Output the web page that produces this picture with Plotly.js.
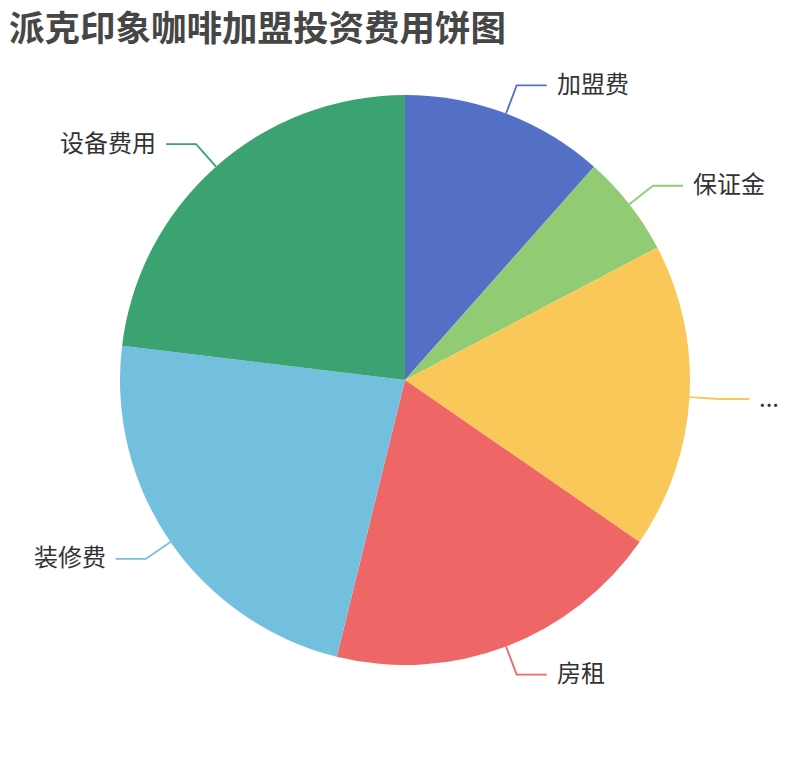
<!DOCTYPE html>
<html>
<head>
<meta charset="utf-8">
<script src="https://cdn.plot.ly/plotly-3.0.1.min.js"></script>
<style>
body { margin: 0; background: #fff; }
#myDiv { width: 810px; height: 760px; }
</style>
</head>
<body>
<div id="myDiv"></div>
<script>
// 费用项目 和 金额（万元）
var labels = ["加盟费", "保证金", "...", "房租", "装修费", "设备费用"];
var values = [6, 3, 9, 10, 12, 12];
var colors = ["#5470c6", "#91cc75", "#fac858", "#ee6666", "#73c0de", "#3ba272"];

var W = 810, H = 760;
var cx = 405, cy = 380, R = 285;
var len1 = 30, len2 = 30, gap = 8;

var total = values.reduce(function (a, b) { return a + b }, 0);

// px -> paper
const px = (x) => x / W;
const py = (y) => 1 - y / H;

// leader lines + labels, placed at each slice's middle angle
var shapes = [];
var annotations = [];
var acc = 0;
for (var i = 0; i < values.length; i++) {
    var mid = (acc + values[i] / 2) / total * 2 * Math.PI;
    acc += values[i];
    var sx = Math.sin(mid), sy = -Math.cos(mid);
    var x1 = cx + R * sx, y1 = cy + R * sy;
    var x2 = cx + (R + len1) * sx, y2 = cy + (R + len1) * sy;
    var dir = sx >= 0 ? 1 : -1;
    var x3 = x2 + dir * len2;
    shapes.push({
        type: 'path',
        xref: 'paper',
        yref: 'paper',
        path: 'M' + px(x1) + ',' + py(y1) + ' L' + px(x2) + ',' + py(y2) + ' L' + px(x3) + ',' + py(y2),
        line: { color: colors[i], width: 1.8 }
    });
    annotations.push({
        xref: 'paper',
        yref: 'paper',
        x: px(x3 + dir * gap),
        y: py(y2),
        xanchor: dir > 0 ? 'left' : 'right',
        yanchor: 'middle',
        yshift: 3,
        text: labels[i],
        showarrow: false,
        font: { size: 24, color: '#333333', family: '"Noto Sans CJK SC", sans-serif' }
    });
}

var data = [{
    type: 'pie',
    labels: labels,
    values: values,
    sort: false,
    direction: 'clockwise',
    rotation: 0,
    textinfo: 'none',
    hoverinfo: 'label+value+percent',
    marker: { colors: colors, line: { width: 0 } },
    domain: { x: [px(cx - R), px(cx + R)], y: [py(cy + R), py(cy - R)] },
    showlegend: false
}];

var layout = {
    width: W,
    height: H,
    margin: { t: 0, b: 0, l: 0, r: 0 },
    paper_bgcolor: '#ffffff',
    showlegend: false,
    font: { family: '"Noto Sans CJK SC", sans-serif' },
    title: {
        text: '<b>派克印象咖啡加盟投资费用饼图</b>',
        x: 9 / W,
        xanchor: 'left',
        y: py(29),
        yanchor: 'middle',
        font: { size: 35.5, color: '#464646', family: '"Noto Sans CJK SC", sans-serif' }
    },
    shapes: shapes,
    annotations: annotations
};

Plotly.newPlot('myDiv', data, layout, { displayModeBar: false });
</script>
</body>
</html>
